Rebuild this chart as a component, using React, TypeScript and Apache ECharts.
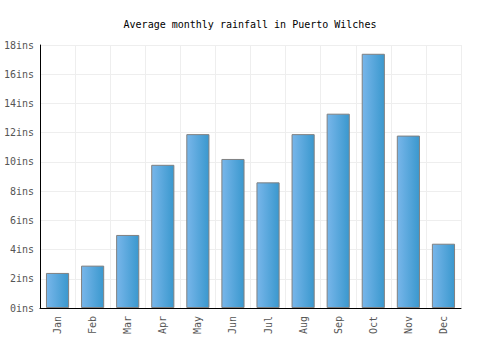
import React, { useEffect, useRef } from "react";
import * as echarts from "echarts";

const months = ["Jan", "Feb", "Mar", "Apr", "May", "Jun", "Jul", "Aug", "Sep", "Oct", "Nov", "Dec"];
const rainfall = [2.4, 2.9, 5.0, 9.8, 11.9, 10.2, 8.6, 11.9, 13.3, 17.4, 11.8, 4.4];
const title = "Average monthly rainfall in Puerto Wilches";

export default function App() {
  const ref = useRef<HTMLDivElement>(null);
  useEffect(() => {
    if (!ref.current) return;
    document.body.style.margin = "0";
    const chart = echarts.init(ref.current, null, { renderer: "svg" });
    const font = "'DejaVu Sans Mono', monospace";
    chart.setOption({
      animation: false,
      backgroundColor: "#fff",
      title: {
        text: title,
        left: "center",
        top: 14,
        textStyle: { fontFamily: font, fontSize: 10, fontWeight: "normal", color: "#000" },
      },
      grid: { left: 40, right: 39, top: 45, bottom: 42 },
      xAxis: {
        type: "category",
        data: months,
        axisLine: { show: true, lineStyle: { color: "#000", width: 1 } },
        axisTick: { show: false },
        splitLine: { show: true, interval: 0, lineStyle: { color: "#eeeeee" } },
        axisLabel: { rotate: 90, interval: 0, fontFamily: font, fontSize: 10, color: "#555", margin: 8 },
      },
      yAxis: {
        type: "value",
        min: 0,
        max: 18,
        interval: 2,
        axisLine: { show: true, lineStyle: { color: "#000", width: 1 } },
        axisTick: { show: false },
        splitLine: { show: true, lineStyle: { color: "#eeeeee" } },
        axisLabel: { formatter: "{value}ins", fontFamily: font, fontSize: 10, color: "#555", margin: 6 },
      },
      series: [
        {
          type: "bar",
          data: rainfall,
          barWidth: "66%",
          itemStyle: {
            color: new echarts.graphic.LinearGradient(0, 0, 1, 0, [
              { offset: 0, color: "#78b6ea" },
              { offset: 1, color: "#3a98ce" },
            ]),
            borderColor: "#808080",
            borderWidth: 1,
          },
        },
      ],
    });
    return () => chart.dispose();
  }, []);
  return <div ref={ref} style={{ width: 500, height: 350 }} />;
}
